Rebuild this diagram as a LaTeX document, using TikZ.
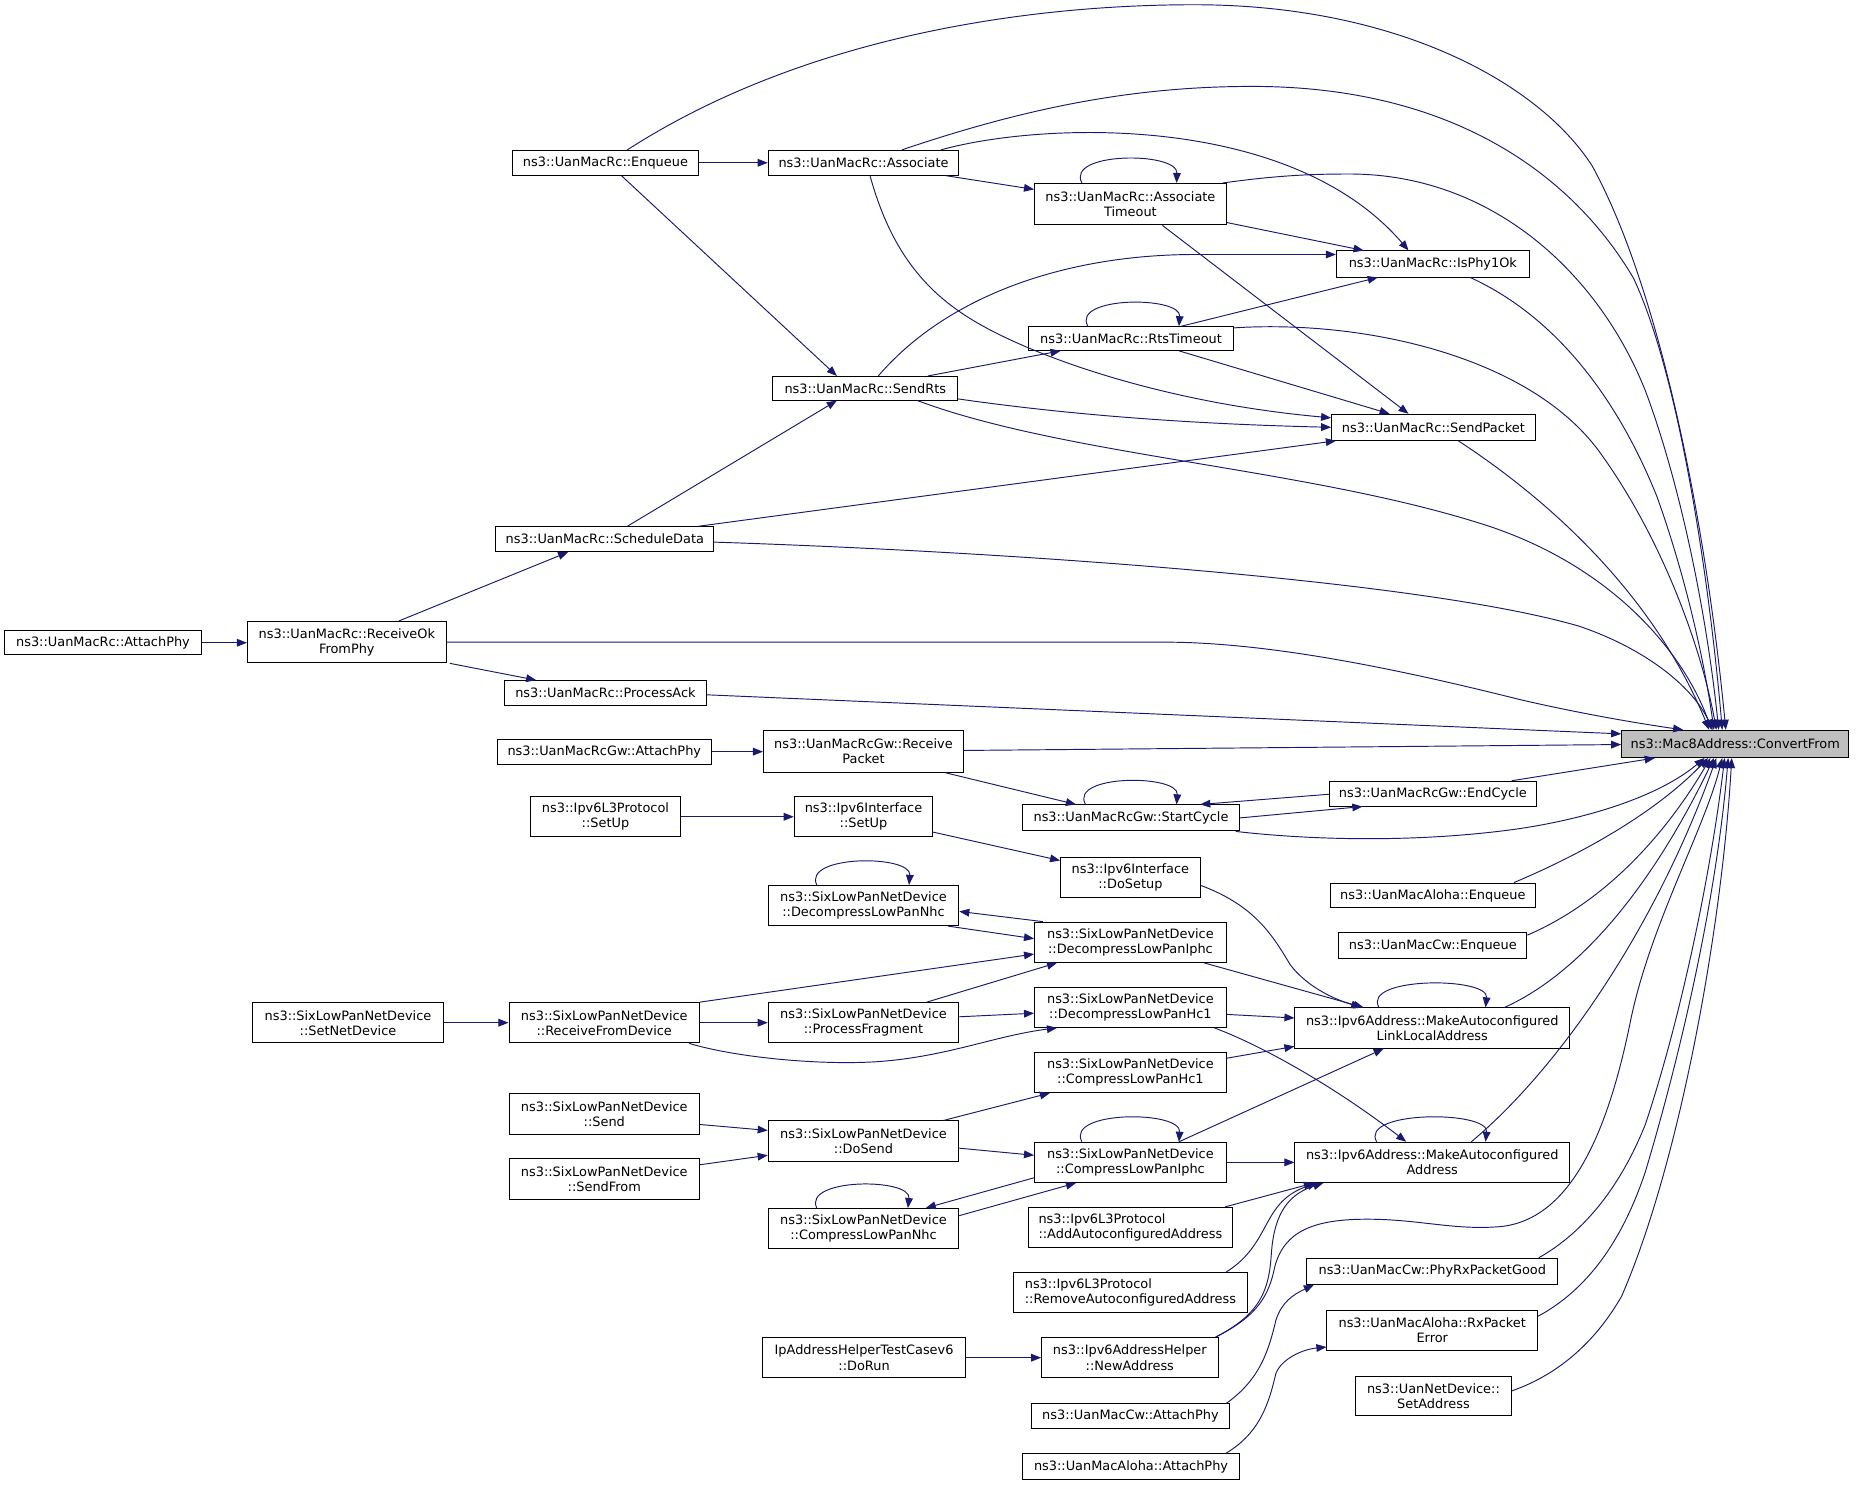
\documentclass[tikz,border=0pt]{standalone}
\usepackage{fontspec}
\setmainfont{DejaVu Sans}
\usetikzlibrary{arrows.meta}
\definecolor{edgeblue}{RGB}{25,25,112}
\definecolor{cfgray}{RGB}{191,191,191}
\begin{document}
\begin{tikzpicture}[x=1pt,y=-1pt,
  box/.style={draw=black, fill=white, line width=0.8pt, inner sep=0pt, align=center, font=\fontsize{10.9}{12.7}\selectfont},
  sz/.style 2 args={minimum width=#1pt, minimum height=#2pt},
  ca/.style={draw=edgeblue, line width=0.8pt, -{Triangle[length=8.5pt,width=6.5pt]}},
]
\fill[white] (0,0) rectangle (1568,1255);
\useasboundingbox (0,0) rectangle (1568,1255);

% ---------- nodes ----------
\node[box, sz={157}{21}] (enq) at (511.5,137.5) {ns3::UanMacRc::Enqueue};
\node[box, sz={161}{21}] (assoc) at (729.5,137.5) {ns3::UanMacRc::Associate};
\node[box, sz={162}{35}] (atimeout) at (955,172.5) {ns3::UanMacRc::Associate\\Timeout};
\node[box, sz={163}{22}] (isphy) at (1210.5,223) {ns3::UanMacRc::IsPhy1Ok};
\node[box, sz={173}{20}] (rtst) at (955.5,286) {ns3::UanMacRc::RtsTimeout};
\node[box, sz={156}{20}] (sendrts) at (731,328) {ns3::UanMacRc::SendRts};
\node[box, sz={172}{22}] (sendpkt) at (1211,361) {ns3::UanMacRc::SendPacket};
\node[box, sz={184}{21}] (sched) at (511,455.5) {ns3::UanMacRc::ScheduleData};
\node[box, sz={166}{20}] (rcattach) at (87,543) {ns3::UanMacRc::AttachPhy};
\node[box, sz={168}{35}] (recvok) at (293,542.5) {ns3::UanMacRc::ReceiveOk\\FromPhy};
\node[box, sz={171}{21}] (procack) at (511.5,585.5) {ns3::UanMacRc::ProcessAck};
\node[box, sz={192}{23}, fill=cfgray] (cf) at (1466,628.5) {ns3::Mac8Address::ConvertFrom};
\node[box, sz={181}{21}] (gwattach) at (510.5,635) {ns3::UanMacRcGw::AttachPhy};
\node[box, sz={169}{35}] (gwrecv) at (729.5,635) {ns3::UanMacRcGw::Receive\\Packet};
\node[box, sz={175}{21}] (endcycle) at (1210.5,670.5) {ns3::UanMacRcGw::EndCycle};
\node[box, sz={183}{22}] (startcycle) at (955.5,691) {ns3::UanMacRcGw::StartCycle};
\node[box, sz={127}{34}] (l3setup) at (511.5,690) {ns3::Ipv6L3Protocol\\::SetUp};
\node[box, sz={117}{34}] (ifsetup) at (729.5,690) {ns3::Ipv6Interface\\::SetUp};
\node[box, sz={118}{34}] (dosetup) at (955,741) {ns3::Ipv6Interface\\::DoSetup};
\node[box, sz={173}{21}] (alohaenq) at (1210.5,756.5) {ns3::UanMacAloha::Enqueue};
\node[box, sz={159}{22}] (cwenq) at (1210.5,799) {ns3::UanMacCw::Enqueue};
\node[box, sz={161}{34}] (dnhc) at (729.5,765) {ns3::SixLowPanNetDevice\\::DecompressLowPanNhc};
\node[box, sz={162}{34}] (diphc) at (955,796) {ns3::SixLowPanNetDevice\\::DecompressLowPanIphc};
\node[box, sz={161}{34}] (setnet) at (294,864) {ns3::SixLowPanNetDevice\\::SetNetDevice};
\node[box, sz={161}{34}] (rfd) at (510.5,864) {ns3::SixLowPanNetDevice\\::ReceiveFromDevice};
\node[box, sz={161}{34}] (pf) at (729.5,864) {ns3::SixLowPanNetDevice\\::ProcessFragment};
\node[box, sz={162}{34}] (dhc1) at (955,851) {ns3::SixLowPanNetDevice\\::DecompressLowPanHc1};
\node[box, sz={232}{34}] (lla) at (1210,868.5) {ns3::Ipv6Address::MakeAutoconfigured\\LinkLocalAddress};
\node[box, sz={162}{34}] (chc1) at (955,906) {ns3::SixLowPanNetDevice\\::CompressLowPanHc1};
\node[box, sz={161}{34}] (send) at (510.5,941) {ns3::SixLowPanNetDevice\\::Send};
\node[box, sz={161}{34}] (dosend) at (729.5,964) {ns3::SixLowPanNetDevice\\::DoSend};
\node[box, sz={161}{34}] (sendfrom) at (510.5,996) {ns3::SixLowPanNetDevice\\::SendFrom};
\node[box, sz={162}{34}] (ciphc) at (955,982) {ns3::SixLowPanNetDevice\\::CompressLowPanIphc};
\node[box, sz={232}{34}] (maa) at (1210,982) {ns3::Ipv6Address::MakeAutoconfigured\\Address};
\node[box, sz={161}{34}] (cnhc) at (729.5,1038) {ns3::SixLowPanNetDevice\\::CompressLowPanNhc};
\node[box, sz={173}{34}, align=left] (addauto) at (955,1037) {ns3::Ipv6L3Protocol\\::AddAutoconfiguredAddress};
\node[box, sz={198}{34}, align=left] (removeauto) at (955,1092) {ns3::Ipv6L3Protocol\\::RemoveAutoconfiguredAddress};
\node[box, sz={212}{22}] (phyrx) at (1210,1074) {ns3::UanMacCw::PhyRxPacketGood};
\node[box, sz={178}{34}] (rxerr) at (1210,1124) {ns3::UanMacAloha::RxPacket\\Error};
\node[box, sz={171}{34}] (dorun) at (730,1147) {IpAddressHelperTestCasev6\\::DoRun};
\node[box, sz={149}{34}] (newaddr) at (954.5,1147) {ns3::Ipv6AddressHelper\\::NewAddress};
\node[box, sz={132}{33}] (setaddr) at (1211,1179.5) {ns3::UanNetDevice::\\SetAddress};
\node[box, sz={168}{21}] (cwattach) at (955,1196.5) {ns3::UanMacCw::AttachPhy};
\node[box, sz={183}{22}] (alohaattach) at (955.5,1239) {ns3::UanMacAloha::AttachPhy};

% ---------- edges ----------
\draw[ca] (enq.east) -- (assoc.west);
\draw[ca] (525,0 |- enq.south) -- (707,0 |- sendrts.north);
\draw[ca] (530,0 |- enq.north) .. controls (680,30) and (870,4) .. (1009,4) .. controls (1180,4) and (1300,70) .. (1345,140) .. controls (1400,240) and (1440,430) .. (1458,0 |- cf.north);
\draw[ca] (762,0 |- assoc.north) .. controls (870,90) and (960,73) .. (1058,73) .. controls (1230,73) and (1330,150) .. (1380,235) .. controls (1420,320) and (1445,500) .. (1455,0 |- cf.north);
\draw[ca] (795,0 |- assoc.north) .. controls (880,103) and (1090,95) .. (1190,0 |- isphy.north);
\draw[ca] (799,0 |- assoc.south) -- (atimeout.west |- 0,160);
\draw[ca] (914,0 |- atimeout.north) .. controls (900,128) and (995,128) .. (994,0 |- atimeout.north);
\draw[ca] (atimeout.east |- 0,188) -- (1152,0 |- isphy.north);
\draw[ca] (982,0 |- atimeout.south) -- (1190,0 |- sendpkt.north);
\draw[ca] (1033,0 |- atimeout.north) .. controls (1080,148) and (1110,147) .. (1140,147) .. controls (1260,147) and (1350,230) .. (1390,330) .. controls (1420,410) and (1442,520) .. (1452,0 |- cf.north);
\draw[ca] (742,0 |- sendrts.north) .. controls (800,250) and (900,215) .. (1010,215) -- (isphy.west |- 0,215);
\draw[ca] (1242,0 |- isphy.south) .. controls (1320,270) and (1370,345) .. (1400,420) .. controls (1425,490) and (1440,560) .. (1448,0 |- cf.north);
\draw[ca] (919,0 |- rtst.north) .. controls (905,250) and (998,250) .. (996,0 |- rtst.north);
\draw[ca] (998,0 |- rtst.north) -- (1164,0 |- isphy.south);
\draw[ca] (rtst.east |- 0,277) .. controls (1150,270) and (1290,300) .. (1350,380) .. controls (1405,455) and (1438,550) .. (1450,0 |- cf.north);
\draw[ca] (996,0 |- rtst.south) -- (1174,0 |- sendpkt.north);
\draw[ca] (784,0 |- sendrts.north) -- (896,0 |- rtst.south);
\draw[ca] (735,0 |- assoc.south) .. controls (752,210) and (780,245) .. (821,270) .. controls (870,300) and (980,340) .. (sendpkt.west |- 0,353);
\draw[ca] (sendrts.east |- 0,337) .. controls (900,350) and (1000,358) .. (sendpkt.west |- 0,361);
\draw[ca] (775,0 |- sendrts.south) .. controls (900,385) and (1100,395) .. (1250,442) .. controls (1360,476) and (1422,550) .. (1446,0 |- cf.north);
\draw[ca] (1232,0 |- sendpkt.south) .. controls (1320,430) and (1400,510) .. (1444,0 |- cf.north);
\draw[ca] (530,0 |- sched.north) -- (707,0 |- sendrts.south);
\draw[ca] (590,0 |- sched.north) -- ([xshift=4pt]sendpkt.south west);
\draw[ca] (sched.east |- 0,458) .. controls (850,466) and (1200,490) .. (1334,529) .. controls (1390,548) and (1430,580) .. (1447,0 |- cf.north);
\draw[ca] (337,0 |- recvok.north) -- (480,0 |- sched.south);
\draw[ca] (380,0 |- recvok.south) -- (453,0 |- procack.north);
\draw[ca] (rcattach.east) -- (recvok.west |- rcattach.east);
\draw[ca] (recvok.east) -- (984,542.5) .. controls (1080,542.5) and (1200,570) .. (1284,591) .. controls (1340,604) and (1390,612) .. (1422,0 |- cf.north);
\draw[ca] (procack.east |- 0,587) -- (cf.west |- 0,620);
\draw[ca] (gwattach.east) -- (gwrecv.west |- gwattach.east);
\draw[ca] (gwrecv.east |- 0,634) -- (cf.west |- 0,629);
\draw[ca] (799,0 |- gwrecv.south) -- (909,0 |- startcycle.north);
\draw[ca] (917,0 |- startcycle.north) .. controls (903,654) and (996,654) .. (994,0 |- startcycle.north);
\draw[ca] (endcycle.west |- 0,671) -- (1014,0 |- startcycle.north);
\draw[ca] (startcycle.east |- 0,691) -- (1151,0 |- endcycle.south);
\draw[ca] (1277,0 |- endcycle.north) -- (1398,0 |- cf.south);
\draw[ca] (1044,0 |- startcycle.south) .. controls (1110,710) and (1200,712) .. (1284,700) .. controls (1350,690) and (1405,670) .. (1440,0 |- cf.south);
\draw[ca] (1279,0 |- alohaenq.north) .. controls (1340,720) and (1400,685) .. (1443,0 |- cf.south);
\draw[ca] (cwenq.east |- 0,790) .. controls (1360,760) and (1410,700) .. (1445,0 |- cf.south);
\draw[ca] (l3setup.east) -- (ifsetup.west);
\draw[ca] (ifsetup.east |- 0,703) -- (dosetup.west |- 0,727);
\draw[ca] (dosetup.east |- 0,748) .. controls (1060,765) and (1075,790) .. (1090,815) .. controls (1105,835) and (1130,845) .. (1150,0 |- lla.north);
\draw[ca] (690,0 |- dnhc.north) .. controls (678,722) and (770,722) .. (768,0 |- dnhc.north);
\draw[ca] (881,0 |- diphc.north) -- (dnhc.east |- 0,770);
\draw[ca] (801,0 |- dnhc.south) -- (diphc.west |- 0,793);
\draw[ca] (rfd.north east) -- (diphc.west |- 0,806);
\draw[ca] (783,0 |- pf.north) -- (893,0 |- diphc.south);
\draw[ca] (pf.east |- 0,859) -- (dhc1.west |- 0,856);
\draw[ca] (rfd.east) -- (pf.west);
\draw[ca] (setnet.east) -- (rfd.west);
\draw[ca] (582,0 |- rfd.south) .. controls (620,893) and (690,900) .. (740,897) .. controls (800,893) and (840,875) .. (893,0 |- dhc1.south);
\draw[ca] (1017,0 |- diphc.south) -- (1152,0 |- lla.north);
\draw[ca] (dhc1.east |- 0,857) -- (lla.west |- 0,860);
\draw[ca] (1026,0 |- dhc1.south) .. controls (1070,885) and (1130,920) .. (1188,0 |- maa.north);
\draw[ca] (chc1.east |- 0,894) -- (lla.west |- 0,884);
\draw[ca] (1165,0 |- lla.north) .. controls (1150,825) and (1258,825) .. (1255,0 |- lla.north);
\draw[ca] (1271,0 |- lla.north) .. controls (1340,820) and (1400,740) .. (1448,0 |- cf.south);
\draw[ca] (996,0 |- ciphc.north) -- (1169,0 |- lla.south);
\draw[ca] (914,0 |- ciphc.north) .. controls (900,938) and (998,938) .. (996,0 |- ciphc.north);
\draw[ca] (ciphc.east) -- (maa.west);
\draw[ca] (1163,0 |- maa.north) .. controls (1148,938) and (1258,938) .. (1255,0 |- maa.north);
\draw[ca] (1243,0 |- maa.north) .. controls (1320,900) and (1400,780) .. (1450,0 |- cf.south);
\draw[ca] (797,0 |- dosend.north) -- (887,0 |- chc1.south);
\draw[ca] (dosend.east |- 0,970) -- (ciphc.west |- 0,976);
\draw[ca] (send.east |- 0,950) -- (dosend.west |- 0,955);
\draw[ca] (sendfrom.east |- 0,984) -- (dosend.west |- 0,976);
\draw[ca] (690,0 |- cnhc.north) .. controls (678,995) and (770,995) .. (767,0 |- cnhc.north);
\draw[ca] (ciphc.west |- 0,995) -- (782,0 |- cnhc.north);
\draw[ca] (cnhc.east |- 0,1027) -- (909,0 |- ciphc.south);
\draw[ca] (1035,0 |- addauto.north) -- (1110,0 |- maa.south);
\draw[ca] (1036,0 |- removeauto.north) .. controls (1075,1050) and (1065,1015) .. (1113,0 |- maa.south);
\draw[ca] (1027,0 |- newaddr.north) .. controls (1065,1110) and (1072,1090) .. (1074,1060) .. controls (1076,1030) and (1085,1010) .. (1118,0 |- maa.south);
\draw[ca] (1027,0 |- newaddr.north) .. controls (1062,1112) and (1072,1095) .. (1077,1070) .. controls (1085,1040) and (1110,1030) .. (1155,1030) .. controls (1200,1030) and (1230,1040) .. (1270,1036) .. controls (1330,1028) and (1360,950) .. (1378,860) .. controls (1395,780) and (1440,700) .. (1455,0 |- cf.south);
\draw[ca] (dorun.east) -- (newaddr.west);
\draw[ca] (1036,0 |- cwattach.north) .. controls (1065,1165) and (1072,1140) .. (1078,1115) .. controls (1083,1100) and (1092,1094) .. (1110,0 |- phyrx.south);
\draw[ca] (1036,0 |- alohaattach.north) .. controls (1065,1210) and (1072,1185) .. (1078,1160) .. controls (1083,1148) and (1100,1140) .. (rxerr.west |- 0,1138);
\draw[ca] (1300,0 |- phyrx.north) .. controls (1340,1040) and (1370,1000) .. (1390,950) .. controls (1420,860) and (1445,740) .. (1457,0 |- cf.south);
\draw[ca] (rxerr.east |- 0,1112) .. controls (1340,1090) and (1370,1050) .. (1390,990) .. controls (1420,890) and (1450,760) .. (1460,0 |- cf.south);
\draw[ca] (setaddr.east |- 0,1175) .. controls (1320,1160) and (1350,1130) .. (1370,1095) .. controls (1420,980) and (1455,780) .. (1463,0 |- cf.south);
\end{tikzpicture}
\end{document}
